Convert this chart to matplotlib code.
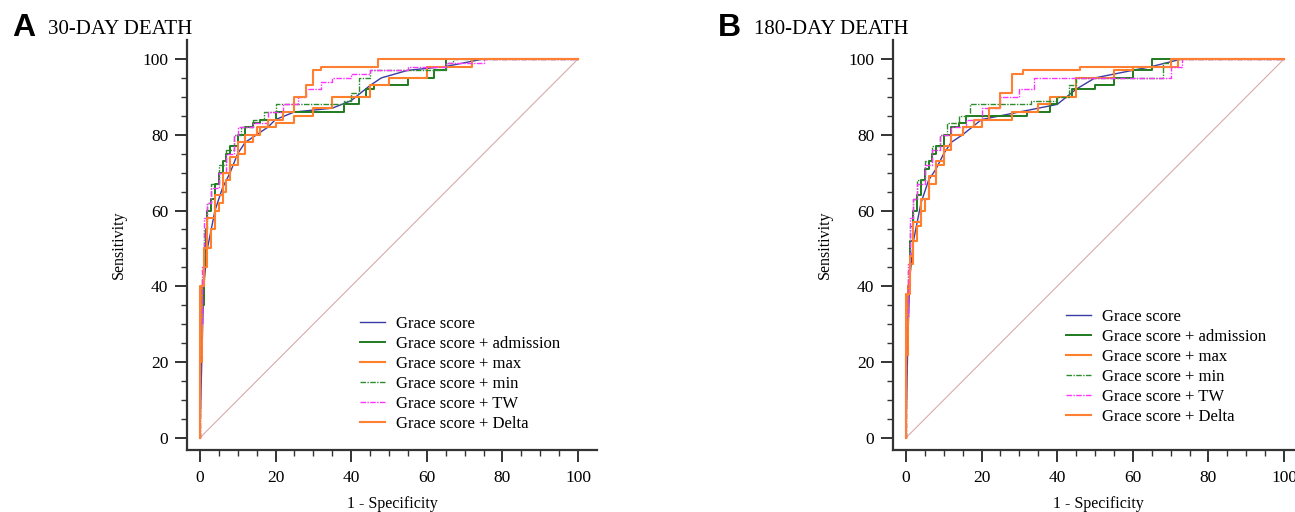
import numpy as np
import matplotlib.pyplot as plt

plt.rcParams['font.family'] = ['Liberation Serif', 'DejaVu Serif']

# legend labels and line styles
labels = ['Grace score', 'Grace score + admission', 'Grace score + max',
          'Grace score + min', 'Grace score + TW', 'Grace score + Delta']
colors = ['#3b3ba6', '#1f7a1f', '#ff7f2a', '#2e8b2e', '#ff33ff', '#ff8033']
styles = ['-', '-', '-', (0, (4, 1, 1, 1)), (0, (4, 1, 1, 1)), '-']
widths = [1.0, 1.4, 1.5, 1.0, 1.0, 1.5]

# ---------- 30-day death (1 - specificity, sensitivity) ----------
a_grace_x = [0, 0.5, 1, 2, 3, 4, 5, 6, 8, 10, 12, 15, 18, 20, 25, 35, 40, 45, 48, 55, 65, 70, 75, 100]
a_grace_y = [0, 20, 40, 50, 55, 60, 63, 66, 70, 75, 78, 80, 82, 84, 86, 87, 89, 93, 95, 97, 98, 99, 100, 100]
a_adm_x = [0, 0.5, 1, 1.5, 2, 3, 4, 5, 6, 7, 8, 10, 12, 14, 16, 20, 25, 38, 42, 44, 46, 55, 62, 65, 66, 100]
a_adm_y = [0, 25, 35, 45, 55, 60, 63, 67, 70, 73, 75, 77, 80, 82, 83, 84, 86, 86, 88, 90, 92, 93, 95, 97, 100, 100]
a_max_x = [0, 0.5, 1, 2, 3, 4, 5, 6, 7, 8, 10, 12, 14, 16, 20, 25, 30, 35, 45, 50, 60, 72, 75, 100]
a_max_y = [0, 20, 40, 45, 50, 55, 60, 62, 65, 68, 72, 75, 78, 80, 82, 83, 85, 87, 90, 93, 95, 98, 100, 100]
a_min_x = [0, 0.5, 1, 2, 3, 5, 7, 9, 11, 14, 17, 20, 22, 38, 40, 42, 45, 47, 65, 67, 100]
a_min_y = [0, 30, 42, 55, 62, 67, 72, 76, 80, 82, 84, 86, 88, 88, 89, 91, 95, 97, 97, 99, 100]
a_tw_x = [0, 0.5, 1, 2, 3, 5, 7, 9, 10, 14, 18, 22, 26, 28, 32, 35, 40, 45, 55, 65, 75, 100]
a_tw_y = [0, 30, 45, 58, 62, 66, 70, 75, 80, 82, 83, 86, 88, 90, 92, 94, 95, 96, 97, 98, 99, 100]
a_del_x = [0, 1, 2, 4, 6, 8, 10, 12, 15, 18, 22, 25, 28, 30, 32, 47, 75, 100]
a_del_y = [0, 40, 50, 58, 64, 70, 74, 78, 80, 82, 84, 86, 90, 93, 97, 98, 100, 100]

# ---------- 180-day death ----------
b_grace_x = [0, 0.5, 1, 2, 3, 4, 5, 6, 8, 10, 12, 15, 20, 30, 40, 45, 50, 60, 65, 73, 100]
b_grace_y = [0, 25, 42, 52, 57, 62, 65, 68, 71, 75, 78, 80, 84, 86, 88, 92, 95, 97, 98, 100, 100]
b_adm_x = [0, 0.5, 1, 2, 3, 4, 5, 6, 7, 8, 10, 12, 14, 16, 20, 32, 38, 40, 44, 50, 55, 60, 65, 70, 100]
b_adm_y = [0, 28, 40, 52, 60, 64, 68, 71, 73, 75, 77, 80, 82, 83, 85, 85, 86, 88, 90, 92, 93, 95, 97, 100, 100]
b_max_x = [0, 0.5, 1, 2, 3, 4, 5, 6, 8, 10, 12, 15, 20, 28, 35, 38, 45, 55, 60, 72, 74, 100]
b_max_y = [0, 22, 40, 46, 52, 56, 60, 63, 67, 72, 76, 80, 82, 84, 86, 88, 90, 95, 97, 98, 100, 100]
b_min_x = [0, 0.5, 1, 2, 3, 5, 7, 9, 11, 14, 17, 20, 33, 40, 43, 45, 47, 68, 70, 100]
b_min_y = [0, 32, 44, 56, 63, 68, 73, 77, 80, 83, 85, 88, 88, 89, 90, 93, 95, 95, 99, 100]
b_tw_x = [0, 0.5, 1, 2, 3, 5, 7, 9, 12, 16, 20, 25, 30, 34, 40, 70, 73, 100]
b_tw_y = [0, 32, 46, 58, 63, 67, 72, 76, 80, 82, 84, 87, 90, 92, 95, 95, 98, 100]
b_del_x = [0, 1, 2, 4, 6, 8, 10, 12, 15, 18, 22, 25, 28, 31, 46, 70, 74, 100]
b_del_y = [0, 38, 48, 57, 63, 69, 73, 77, 80, 82, 84, 87, 91, 96, 97, 98, 100, 100]

panels = [
    ('A', '30-DAY DEATH', 0.1444, 0.328,
     [(a_grace_x, a_grace_y), (a_adm_x, a_adm_y), (a_max_x, a_max_y),
      (a_min_x, a_min_y), (a_tw_x, a_tw_y), (a_del_x, a_del_y)]),
    ('B', '180-DAY DEATH', 0.6896, 0.345,
     [(b_grace_x, b_grace_y), (b_adm_x, b_adm_y), (b_max_x, b_max_y),
      (b_min_x, b_min_y), (b_tw_x, b_tw_y), (b_del_x, b_del_y)]),
]

fig = plt.figure(figsize=(12.95, 5.12), dpi=100)

for letter, title, left, legtop, curves in panels:
    ax = fig.add_axes([left, 0.1211, 0.3166, 0.8008])
    ax.plot([0, 100], [0, 100], color='#d9aaaa', lw=0.8, zorder=1)
    for i, (xs, ys) in enumerate(curves):
        ds = 'default' if i == 0 else 'steps-pre'
        ax.plot(xs, ys, color=colors[i], ls=styles[i], lw=widths[i],
                drawstyle=ds, label=labels[i], zorder=2 + i)
    ax.set_xlim(-3.4, 105)
    ax.set_ylim(-3.2, 105)
    ax.set_xticks(np.arange(0, 101, 20))
    ax.set_yticks(np.arange(0, 101, 20))
    ax.set_xticks(np.arange(0, 101, 5), minor=True)
    ax.set_yticks(np.arange(0, 101, 5), minor=True)
    ax.spines['top'].set_visible(False)
    ax.spines['right'].set_visible(False)
    for s in ['left', 'bottom']:
        ax.spines[s].set_linewidth(1.6)
        ax.spines[s].set_color('#333333')
    ax.tick_params(which='major', length=8.5, width=1.4, color='#333333', labelsize=12.5, pad=5)
    ax.tick_params(axis='x', which='major', pad=6)
    ax.tick_params(which='minor', length=4, width=1.0, color='#333333')
    ax.set_xlabel('1 - Specificity', fontsize=11.5, labelpad=7)
    ax.set_ylabel('Sensitivity', fontsize=11.5, labelpad=11)
    ax.legend(loc='upper left', bbox_to_anchor=(0.422, legtop), frameon=False,
              fontsize=12, handlelength=1.5, handletextpad=0.65, labelspacing=0.24,
              borderpad=0, borderaxespad=0)
    fig.text(left - 0.135, 0.945, letter, fontsize=23, fontweight='bold',
             family=['Liberation Sans', 'DejaVu Sans'], va='center')
    fig.text(left - 0.107, 0.943, title, fontsize=15, va='center')

fig.savefig('out.png', dpi=100)
